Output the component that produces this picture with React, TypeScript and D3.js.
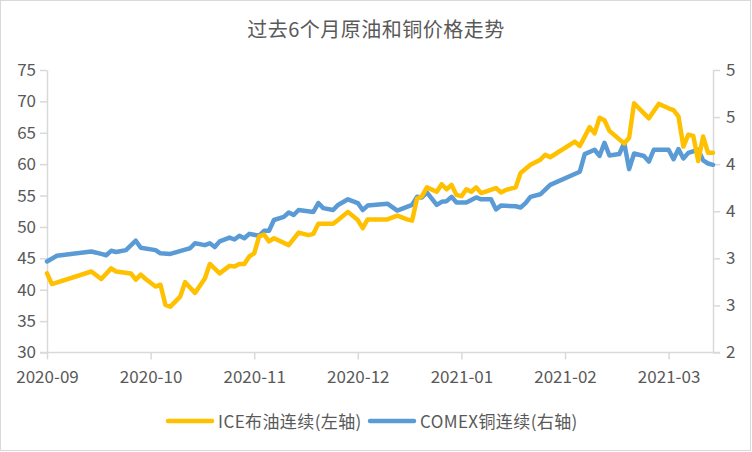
import React, { useEffect, useRef } from 'react';
import * as d3 from 'd3';

// trading-day index since 2020-09-01 and price
const brentDay = [0, 1, 9, 11, 13, 14, 17, 18, 19, 20, 22, 23, 24, 25, 27, 28, 30, 32, 33, 35, 37, 38, 39, 40, 41, 42, 43, 44, 45, 46, 49, 51, 53, 54, 55, 58, 59, 61, 63, 64, 65, 69, 71, 73, 74, 75, 76, 77, 79, 80, 81, 82, 83, 84, 85, 86, 87, 88, 91, 92, 93, 94, 95, 96, 98, 100, 101, 102, 107, 108, 110, 111, 112, 113, 114, 117, 118, 119, 122, 124, 126, 127, 128, 129, 130, 131, 132, 133, 134, 135];
const brentPrice = [42.6, 40.9, 42.9, 41.7, 43.4, 42.9, 42.6, 41.6, 42.4, 41.7, 40.5, 40.8, 37.6, 37.3, 38.9, 41.2, 39.5, 41.8, 44.1, 42.6, 43.8, 43.7, 44.1, 44.1, 45.3, 45.8, 48.5, 48.8, 47.7, 48.2, 47.1, 49.1, 48.7, 48.9, 50.5, 50.5, 51.1, 52.4, 51.1, 49.8, 51.2, 51.2, 51.8, 51.2, 51.0, 54.5, 54.9, 56.3, 55.6, 56.8, 56.0, 56.7, 55.1, 54.9, 56.0, 55.6, 56.3, 55.4, 56.2, 55.5, 55.9, 56.1, 56.3, 58.6, 59.9, 60.7, 61.5, 61.1, 63.6, 62.9, 65.9, 64.9, 67.4, 67.0, 65.3, 63.3, 64.2, 69.7, 67.3, 69.6, 68.9, 68.6, 67.6, 62.8, 64.7, 64.5, 60.5, 64.4, 61.8, 61.8];

const copperDay = [0, 2, 9, 11, 12, 13, 14, 16, 18, 19, 22, 23, 25, 28, 29, 30, 32, 33, 34, 35, 37, 38, 39, 40, 41, 43, 44, 45, 46, 48, 49, 50, 51, 54, 55, 56, 58, 59, 61, 63, 64, 65, 69, 71, 74, 75, 76, 77, 79, 80, 81, 82, 83, 85, 87, 88, 90, 91, 92, 95, 96, 97, 98, 100, 102, 108, 109, 111, 112, 113, 114, 116, 117, 118, 119, 121, 122, 123, 126, 127, 128, 129, 130, 132, 133, 134, 135];
const copperPrice = [2.967, 3.027, 3.073, 3.047, 3.033, 3.08, 3.067, 3.087, 3.187, 3.113, 3.087, 3.053, 3.047, 3.093, 3.107, 3.16, 3.14, 3.16, 3.12, 3.18, 3.22, 3.2, 3.24, 3.213, 3.26, 3.24, 3.293, 3.293, 3.407, 3.44, 3.487, 3.46, 3.513, 3.493, 3.587, 3.533, 3.513, 3.567, 3.627, 3.587, 3.513, 3.56, 3.58, 3.507, 3.567, 3.653, 3.647, 3.7, 3.567, 3.6, 3.607, 3.653, 3.593, 3.593, 3.647, 3.627, 3.627, 3.52, 3.56, 3.553, 3.54, 3.587, 3.653, 3.68, 3.78, 3.92, 4.107, 4.153, 4.087, 4.227, 4.093, 4.107, 4.227, 3.947, 4.113, 4.087, 4.027, 4.153, 4.153, 4.053, 4.16, 4.06, 4.12, 4.153, 4.04, 4.007, 3.993];

const monthDay = [0, 21, 42, 63, 84, 105, 126];
const monthLabels = ['2020-09', '2020-10', '2020-11', '2020-12', '2021-01', '2021-02', '2021-03'];
const leftTicks = [30, 35, 40, 45, 50, 55, 60, 65, 70, 75];
const rightTicks = [2, 2.5, 3, 3.5, 4, 4.5, 5];

const title = '过去6个月原油和铜价格走势';
const seriesNames = ['ICE布油连续(左轴)', 'COMEX铜连续(右轴)'];
const seriesColors = ['#FFC000', '#5B9BD5'];

const W = 752;
const H = 452;
const FONT = "'Noto Sans CJK SC', 'Noto Sans', sans-serif";

export default function App() {
  const svgRef = useRef<SVGSVGElement>(null);

  useEffect(() => {
    const svg = d3.select(svgRef.current);
    svg.selectAll('*').remove();

    const left = 47, right = 713, top = 70, bottom = 352.5;

    const x = d3.scaleLinear().domain([0, 135]).range([left, right]);
    const yL = d3.scaleLinear().domain([30, 75]).range([bottom, top]);
    const yR = d3.scaleLinear().domain([2, 5]).range([bottom, top]);

    // chart border
    svg.append('rect')
      .attr('x', 0.5).attr('y', 0.5)
      .attr('width', W - 2).attr('height', H - 2)
      .attr('fill', '#fff').attr('stroke', '#d9d9d9');

    svg.append('text')
      .attr('x', 376).attr('y', 37)
      .attr('text-anchor', 'middle')
      .attr('fill', '#595959')
      .style('font-size', '20px')
      .style('letter-spacing', '0.5px')
      .text(title);

    const styleAxis = (g: any) => {
      g.selectAll('path, line').attr('stroke', '#d9d9d9').attr('stroke-width', 1.5);
      g.selectAll('text').attr('fill', '#595959').style('font-size', '17px').style('font-family', FONT);
    };

    svg.append('g')
      .attr('transform', `translate(${left},0)`)
      .call(d3.axisLeft(yL).tickValues(leftTicks).tickSize(7).tickSizeOuter(0).tickPadding(4).tickFormat(d3.format('d')))
      .call(styleAxis);

    svg.append('g')
      .attr('transform', `translate(${right},0)`)
      .call(d3.axisRight(yR).tickValues(rightTicks).tickSize(7).tickSizeOuter(0).tickPadding(6).tickFormat(d3.format('.0f')))
      .call(styleAxis);

    const xAxis = svg.append('g')
      .attr('transform', `translate(0,${bottom})`)
      .call(d3.axisBottom(x).tickValues(monthDay).tickSize(7).tickSizeOuter(0).tickPadding(11)
        .tickFormat((_d: any, i: number) => monthLabels[i]))
      .call(styleAxis);
    xAxis.select('.domain').attr('d', `M${left - 7},0H${right + 7}`);

    const lineL = d3.line<number>().x((_d, i) => x(brentDay[i])).y(d => yL(d));
    const lineR = d3.line<number>().x((_d, i) => x(copperDay[i])).y(d => yR(d));

    svg.append('path')
      .attr('d', lineR(copperPrice))
      .attr('fill', 'none').attr('stroke', seriesColors[1])
      .attr('stroke-width', 4.5).attr('stroke-linejoin', 'round').attr('stroke-linecap', 'round');

    svg.append('path')
      .attr('d', lineL(brentPrice))
      .attr('fill', 'none').attr('stroke', seriesColors[0])
      .attr('stroke-width', 4.5).attr('stroke-linejoin', 'round').attr('stroke-linecap', 'round');

    // legend
    const legendX = [168, 370];
    seriesNames.forEach((name, i) => {
      const g = svg.append('g').attr('transform', `translate(${legendX[i]},421)`);
      g.append('line')
        .attr('x1', 0).attr('x2', 44).attr('y1', 0).attr('y2', 0)
        .attr('stroke', seriesColors[i]).attr('stroke-width', 4.5).attr('stroke-linecap', 'round');
      g.append('text')
        .attr('x', 50).attr('y', 6.5)
        .attr('fill', '#595959')
        .style('font-size', '17px')
        .style('letter-spacing', '0.4px')
        .text(name);
    });
  }, []);

  return (
    <svg
      ref={svgRef}
      width={W}
      height={H}
      style={{ position: 'absolute', left: 0, top: 0, fontFamily: FONT }}
    />
  );
}
